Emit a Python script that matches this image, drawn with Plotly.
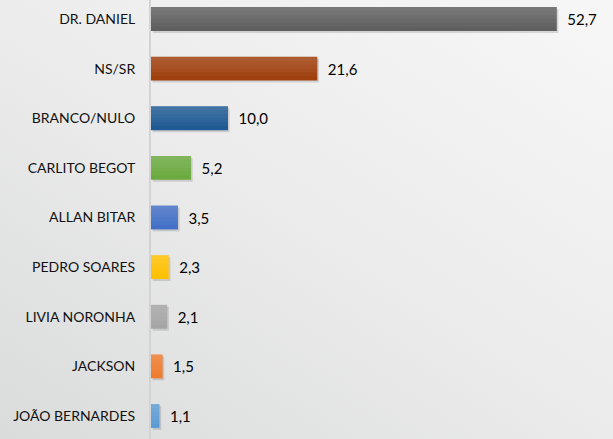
import base64
import plotly.graph_objects as go

candidates = ["DR. DANIEL", "NS/SR", "BRANCO/NULO", "CARLITO BEGOT", "ALLAN BITAR",
              "PEDRO SOARES", "LIVIA NORONHA", "JACKSON", "JOÃO BERNARDES"]
values = [52.7, 21.6, 10.0, 5.2, 3.5, 2.3, 2.1, 1.5, 1.1]
colors = ["#5f5f5f", "#9f3f0c", "#1f5a94", "#6aaa3f", "#4370c6",
          "#ffc000", "#a5a5a5", "#ef7b2d", "#5b9bd5"]

W, H = 613, 439
L = 151
FONT = "Lato, Open Sans, sans-serif"

svg = (
    '<svg xmlns="http://www.w3.org/2000/svg" width="613" height="439">'
    '<defs><linearGradient id="g" x1="0" y1="1" x2="0.9" y2="0">'
    '<stop offset="0" stop-color="#dadbdb"/>'
    '<stop offset="0.5" stop-color="#ebebeb"/>'
    '<stop offset="1" stop-color="#f6f6f6"/>'
    '</linearGradient></defs>'
    '<rect width="613" height="439" fill="url(#g)"/></svg>'
)
src = "data:image/svg+xml;base64," + base64.b64encode(svg.encode()).decode()

fig = go.Figure()
# soft drop shadow
fig.add_trace(go.Bar(
    y=candidates, x=values, base=0.22, orientation="h",
    marker=dict(color="rgba(0,0,0,0.13)", line=dict(width=0)),
    width=0.48, offset=-0.20, hoverinfo="skip",
))
# main bars
fig.add_trace(go.Bar(
    y=candidates, x=values, orientation="h",
    marker=dict(color=colors, line=dict(width=0)),
    width=0.48, offset=-0.24,
    texttemplate="\u2002%{x:.1f}", textposition="outside",
    textfont=dict(family=FONT, size=15, color="#000000"),
    cliponaxis=False,
    hoverinfo="skip",
))
# stepped light sheen toward the top edge (vertical gradient look)
for w in [0.40, 0.32, 0.24, 0.16, 0.08]:
    fig.add_trace(go.Bar(
        y=candidates, x=values, orientation="h",
        marker=dict(color="rgba(255,255,255,0.035)", line=dict(width=0)),
        width=w, offset=-0.24, hoverinfo="skip",
    ))

pw = W - L
fig.update_layout(
    width=W, height=H,
    barmode="overlay",
    margin=dict(l=L, r=0, t=0, b=0, autoexpand=False),
    paper_bgcolor="#ebebeb",
    plot_bgcolor="rgba(0,0,0,0)",
    separators=",.",
    showlegend=False,
    images=[dict(source=src, xref="paper", yref="paper",
                 x=-L / pw, y=1, sizex=W / pw, sizey=1,
                 sizing="stretch", layer="below", xanchor="left", yanchor="top")],
    xaxis=dict(range=[0, 60], visible=False, showgrid=False, zeroline=False),
    yaxis=dict(type="category", categoryorder="array", categoryarray=candidates,
               range=[8.463, -0.383], showgrid=False, zeroline=False,
               showline=True, linecolor="#d3d3d3", linewidth=2,
               ticks="", ticklabelstandoff=11, automargin=False,
               tickfont=dict(family=FONT, size=14, color="#111111")),
)

fig.write_html("out.html", config={"displayModeBar": False, "staticPlot": True},
               post_script="document.body.style.margin='0px';document.body.style.overflow='hidden';")
